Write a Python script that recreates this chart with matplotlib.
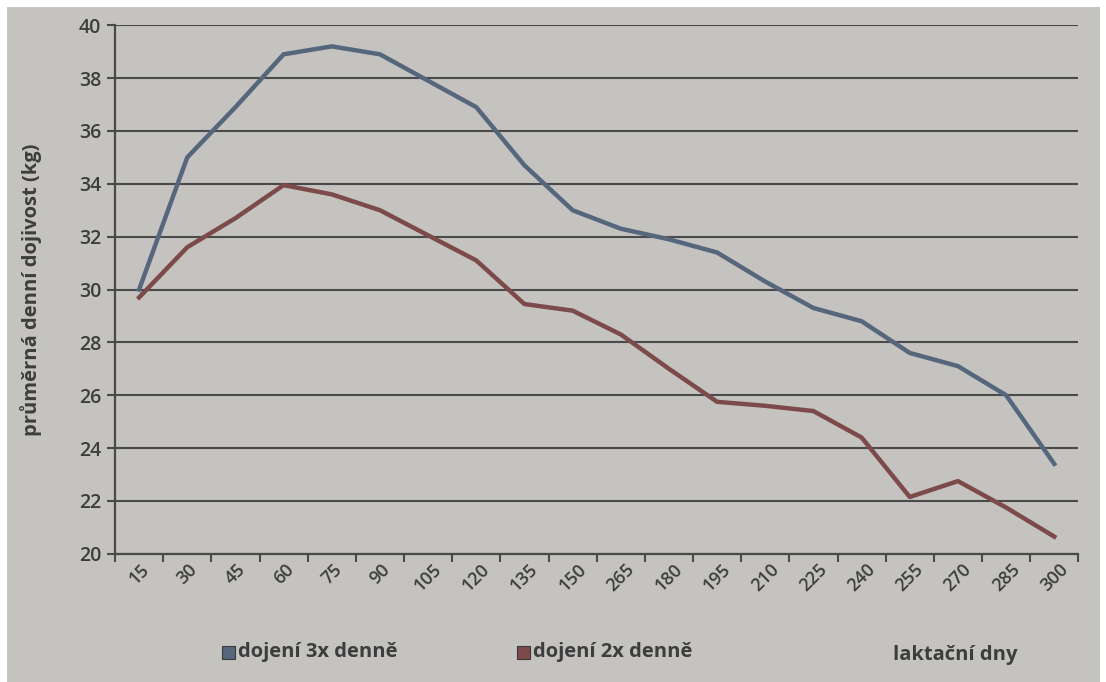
import numpy as np
import matplotlib
matplotlib.use('Agg')
import matplotlib.pyplot as plt
from matplotlib.patches import Rectangle

plt.rcParams['font.family'] = ['Open Sans', 'DejaVu Sans']

# laktační dny (kategorie, tak jak jsou v originále vč. "265")
dny = ['15', '30', '45', '60', '75', '90', '105', '120', '135', '150',
       '265', '180', '195', '210', '225', '240', '255', '270', '285', '300']
dojeni_3x = [30.0, 35.0, 36.9, 38.9, 39.2, 38.9, 37.9, 36.9, 34.7, 33.0,
             32.3, 31.9, 31.4, 30.3, 29.3, 28.8, 27.6, 27.1, 26.0, 23.4]
dojeni_2x = [29.7, 31.6, 32.7, 33.95, 33.6, 33.0, 32.05, 31.1, 29.45, 29.2,
             28.3, 27.0, 25.75, 25.6, 25.4, 24.4, 22.15, 22.75, 21.75, 20.65]

bg = '#c5c3bf'
c_blue = '#56667d'
c_red = '#7c4a4a'
c_text = '#3d3d3d'

fig = plt.figure(figsize=(11.06, 6.82), dpi=100, facecolor='white')
fig.patches.append(Rectangle((7 / 1106, 0), 1093 / 1106, 675 / 682,
                             transform=fig.transFigure, facecolor=bg,
                             edgecolor='none', zorder=-10))
ax = fig.add_axes([0.104, 0.188, 0.871, 0.775])
ax.set_facecolor('none')

x = np.arange(len(dny))
ax.plot(x, dojeni_3x, color=c_blue, linewidth=3.2, solid_joinstyle='round', zorder=3)
ax.plot(x, dojeni_2x, color=c_red, linewidth=3.2, solid_joinstyle='round', zorder=3)

ax.set_xlim(-0.5, len(dny) - 0.5)
ax.set_ylim(20, 40)
ax.set_yticks(np.arange(20, 41, 2))
ax.yaxis.grid(True, color='#4a4a4a', linewidth=1.5)
ax.set_axisbelow(True)
for s in ['top', 'right']:
    ax.spines[s].set_visible(False)
for s in ['left', 'bottom']:
    ax.spines[s].set_color('#4a4a4a')
    ax.spines[s].set_linewidth(1.6)

# značky na hranicích kategorií, popisky uprostřed
ax.set_xticks(np.arange(-0.5, len(dny), 1.0))
ax.set_xticklabels([])
ax.set_xticks(x, minor=True)
ax.set_xticklabels(dny, minor=True, rotation=45, ha='center', va='top',
                   fontsize=13, fontweight='semibold', color=c_text)
ax.tick_params(axis='x', which='major', length=6, width=1.5, color='#4a4a4a')
ax.tick_params(axis='x', which='minor', length=0, pad=5)
ax.tick_params(axis='y', length=6, width=1.5, color='#4a4a4a', labelsize=14,
               labelcolor=c_text, pad=4)
for lab in ax.get_yticklabels():
    lab.set_fontweight('semibold')

fig.text(0.028, 0.575, 'průměrná denní dojivost (kg)', rotation=90,
         ha='center', va='center', fontsize=14.5, fontweight='bold', color=c_text)

# legenda a popis osy x dole
fig.patches.append(Rectangle((222 / 1106, 1 - 659 / 682), 13 / 1106, 13 / 682,
                             transform=fig.transFigure, facecolor=c_blue,
                             edgecolor='#3a3a3a', linewidth=0.8))
fig.text(238 / 1106, 1 - 652 / 682, 'dojení 3x denně', ha='left', va='center',
         fontsize=14.5, fontweight='bold', color=c_text)
fig.patches.append(Rectangle((517 / 1106, 1 - 659 / 682), 13 / 1106, 13 / 682,
                             transform=fig.transFigure, facecolor=c_red,
                             edgecolor='#3a3a3a', linewidth=0.8))
fig.text(533 / 1106, 1 - 652 / 682, 'dojení 2x denně', ha='left', va='center',
         fontsize=14.5, fontweight='bold', color=c_text)
fig.text(893 / 1106, 1 - 655 / 682, 'laktační dny', ha='left', va='center',
         fontsize=14.5, fontweight='bold', color=c_text)

fig.savefig('out.png', dpi=100, facecolor='white')
